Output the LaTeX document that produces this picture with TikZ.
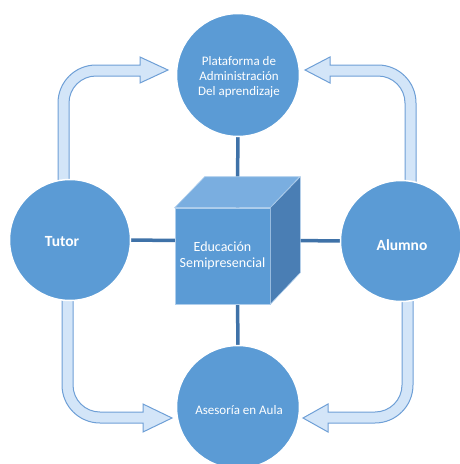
\documentclass[tikz,border=0pt]{standalone}
\usepackage{fontspec}
\setmainfont{Carlito}
\usetikzlibrary{backgrounds}
\definecolor{circblue}{HTML}{5B9BD5}
\definecolor{linkblue}{HTML}{3F72A8}
\definecolor{topface}{HTML}{7AAEE0}
\definecolor{sideface}{HTML}{4A7EB4}
\definecolor{arrfill}{HTML}{D3E5F8}
\definecolor{arrline}{HTML}{6E9FD6}
\begin{document}
\begin{tikzpicture}[x=1pt,y=-1pt,
  circ/.style={circle,fill=circblue,draw=white,line width=1.5pt,minimum size=123pt,inner sep=0pt},
  lbl/.style={text=white,align=center,font=\fontsize{13}{15}\selectfont},
  blbl/.style={text=white,font=\fontsize{15.5}{18}\selectfont\bfseries},
  link/.style={draw=linkblue,line width=3.5pt},
  bigarrow/.style={fill=arrfill,draw=arrline,line width=1pt,line join=miter}]
\useasboundingbox (0,0) rectangle (460,464);
% circles
\node[circ] (top) at (238,75) {};
\node[lbl] (toptext) at (239,77) {Plataforma de\\Administración\\Del aprendizaje};
\node[circ] (bottom) at (238,407) {};
\node[lbl] (bottomtext) at (239,410) {Asesoría en Aula};
\node[circ,minimum size=121pt] (tutor) at (70,240) {};
\node[blbl] (tutortext) at (62,242) {Tutor};
\node[circ,minimum size=121pt] (alumno) at (401,241) {};
\node[blbl] (alumnotext) at (402,245) {Alumno};
% cube
\node[fill=circblue,draw=topface!60!white,line width=0.6pt,minimum width=95pt,minimum height=96pt,inner sep=0pt,
  lbl,font=\fontsize{14}{16.5}\selectfont] (cube) at (222.5,256) {Educación\\Semipresencial};
\draw[fill=topface,draw=topface!60!white,line width=0.6pt] (cube.north west) -- ++(30,-31) -- ++(95,0) -- (cube.north east) -- cycle;
\draw[fill=sideface,draw=topface!60!white,line width=0.6pt] (cube.north east) -- ++(30,-31) -- ++(0,96) -- (cube.south east) -- cycle;
\coordinate (cubec) at (237.5,240.5);
\begin{scope}[on background layer]
\draw[link] (top.center) -- (cubec) -- (bottom.center);
\draw[link] (tutor.center) -- (cubec) -- (alumno.center);
% top-left arrow
\draw[bigarrow] (58,190) -- (58,103) arc[start angle=180,end angle=270,radius=38] -- (140,65) -- (140,57) -- (168,70) -- (140,83) -- (140,76) -- (96,76) arc[start angle=270,end angle=180,radius=27] -- (69,190) -- cycle;
% top-right arrow
\draw[bigarrow] (416,190) -- (416,103) arc[start angle=0,end angle=-90,radius=38] -- (330,65) -- (330,57) -- (305,70) -- (330,83) -- (330,76) -- (378,76) arc[start angle=-90,end angle=0,radius=27] -- (405,190) -- cycle;
% bottom-left arrow
\draw[bigarrow] (62,290) -- (62,385) arc[start angle=180,end angle=90,radius=38] -- (143,423) -- (143,432) -- (172,418) -- (143,404) -- (143,412) -- (100,412) arc[start angle=90,end angle=180,radius=27] -- (73,290) -- cycle;
% bottom-right arrow
\draw[bigarrow] (413,290) -- (413,385) arc[start angle=0,end angle=90,radius=38] -- (328,423) -- (328,432) -- (303,418) -- (328,404) -- (328,412) -- (375,412) arc[start angle=90,end angle=0,radius=27] -- (402,290) -- cycle;
\end{scope}
\end{tikzpicture}
\end{document}
